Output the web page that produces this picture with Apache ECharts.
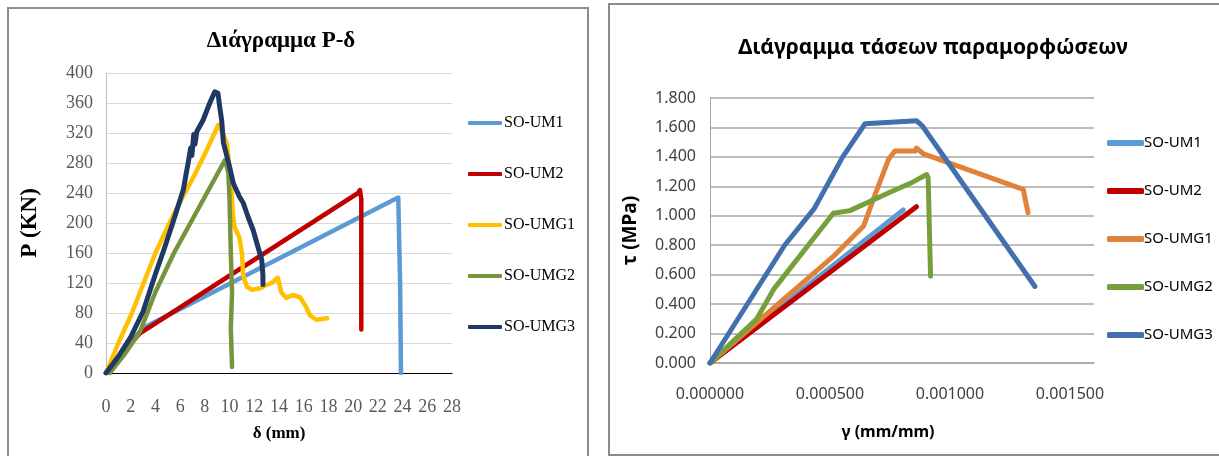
<!DOCTYPE html>
<html>
<head>
<meta charset="utf-8">
<script src="https://cdn.jsdelivr.net/npm/echarts@6/dist/echarts.min.js"></script>
<style>
  html, body { margin:0; padding:0; background:#fff; width:1219px; height:456px; overflow:hidden; }
  #boxL { position:absolute; left:7px; top:7px; width:582px; height:460px; border:2px solid #8c8c8c; box-sizing:border-box; }
  #boxR { position:absolute; left:608px; top:3px; width:620px; height:453px; border:2px solid #8c8c8c; box-sizing:border-box; }
  #chartL { position:absolute; left:0; top:0; width:600px; height:456px; }
  #chartR { position:absolute; left:600px; top:0; width:619px; height:456px; }
</style>
</head>
<body>
<div id="boxL"></div>
<div id="boxR"></div>
<div id="chartL"></div>
<div id="chartR"></div>
<script>
// ---------- Left chart: Διάγραμμα P-δ  (pairs [δ (mm), P (KN)]) ----------
const pdNames = ['SO-UM1', 'SO-UM2', 'SO-UMG1', 'SO-UMG2', 'SO-UMG3'];
const pd_UM1 = [[0,0],[1.5,32],[3,60],[23.65,234],[23.8,120],[23.87,0]];
const pd_UM2 = [[0,0],[1.5,30],[2.75,53],[20.4,240],[20.55,244],[20.66,232],[20.66,58]];
const pd_UMG1 = [[0,0],[1,40],[2.1,80],[3,118],[4,160],[5.25,204],[6,228],[7.1,262],[8,292],[9.1,331],
  [9.5,318],[9.8,305],[10.0,270],[10.15,250],[10.25,215],[10.4,195],[10.8,180],[11.0,160],[11.1,130],
  [11.4,115],[11.8,111],[12.5,113],[12.8,116],[13.4,120],[13.9,127],[14.2,107],[14.6,100],[15.1,104],
  [15.7,101],[16.2,88],[16.5,77],[17.0,71],[17.9,73]];
const pd_UMG2 = [[0.3,0],[1.5,25],[2.75,55],[4,108],[5.5,160],[7.1,208],[8.5,250],[9.63,284],
  [9.9,267],[10.0,230],[10.1,160],[10.2,107],[10.1,60],[10.2,8]];
const pd_UMG3 = [[0,0],[1,22],[2,48],[3,82],[4,132],[4.7,165],[5.4,200],[6.25,244],
  [6.7,285],[6.85,300],[6.95,290],[7.1,318],[7.2,305],[7.35,322],[7.85,337],[8.4,360],[8.8,375],
  [9.06,373],[9.2,355],[9.36,337],[9.5,307],[10.0,275],[10.3,253],[10.8,235],[11.1,227],[11.5,208],
  [11.9,191],[12.3,168],[12.6,151],[12.7,130],[12.7,118]];
const pdSeries = [pd_UM1, pd_UM2, pd_UMG1, pd_UMG2, pd_UMG3];
const pdColors = ['#5B9BD5', '#C00000', '#FFC000', '#77933C', '#1F3864'];
const pdXTicks = { min: 0, max: 28, step: 2 };
const pdYTicks = { min: 0, max: 400, step: 40 };

// ---------- Right chart: Διάγραμμα τάσεων παραμορφώσεων (pairs [γ, τ (MPa)]) ----------
const tgNames = ['SO-UM1', 'SO-UM2', 'SO-UMG1', 'SO-UMG2', 'SO-UMG3'];
const tg_UM1 = [[0,0],[0.000805,1.04]];
const tg_UM2 = [[0,0],[0.00086,1.062]];
const tg_UMG1 = [[0,0],[0.000521,0.735],[0.00064,0.93],[0.00068,1.11],[0.000743,1.38],[0.00077,1.44],
  [0.000855,1.44],[0.00086,1.46],[0.00089,1.42],[0.001305,1.18],[0.001325,1.02]];
const tg_UMG2 = [[0,0],[0.000195,0.30],[0.000265,0.50],[0.000514,1.017],[0.000583,1.035],[0.000736,1.15],
  [0.000846,1.23],[0.000903,1.28],[0.000909,1.26],[0.000919,0.59]];
const tg_UMG3 = [[0,0],[0.000311,0.80],[0.000435,1.05],[0.000553,1.40],[0.000646,1.625],[0.000861,1.645],
  [0.000885,1.61],[0.001354,0.52]];
const tgSeries = [tg_UM1, tg_UM2, tg_UMG1, tg_UMG2, tg_UMG3];
const tgColors = ['#5B9BD5', '#C00000', '#E0823A', '#77A03C', '#4270AE'];
const tgXTicks = { min: 0, max: 0.0016, step: 0.0005 };
const tgYTicks = { min: 0, max: 1.8, step: 0.2 };

const serif = 'Liberation Serif';
const sans = 'Noto Sans';

const chartL = echarts.init(document.getElementById('chartL'), null, { renderer: 'canvas' });
chartL.setOption({
  animation: false,
  title: {
    text: 'Διάγραμμα P-δ', left: 276, top: 25, textAlign: 'center',
    textStyle: { fontFamily: serif, fontWeight: 'bold', fontSize: 23, color: '#000' }
  },
  legend: {
    orient: 'vertical', left: 463, top: 108, itemGap: 31, itemWidth: 34, itemHeight: 4, icon: 'roundRect',
    data: pdNames,
    textStyle: { fontFamily: serif, fontSize: 16, color: '#000', lineHeight: 20, padding: [0,0,0,-3] }
  },
  grid: { left: 106, top: 73, width: 346, height: 300 },
  xAxis: {
    type: 'value', min: pdXTicks.min, max: pdXTicks.max, interval: pdXTicks.step,
    name: 'δ (mm)', nameLocation: 'middle', nameGap: 52,
    nameTextStyle: { fontFamily: serif, fontWeight: 'bold', fontSize: 17, color: '#000' },
    axisLine: { show: true, lineStyle: { color: '#000', width: 1.2 } },
    axisTick: { show: false },
    splitLine: { show: false },
    axisLabel: { fontFamily: serif, fontSize: 18, color: '#595959', margin: 25 }
  },
  yAxis: {
    type: 'value', min: pdYTicks.min, max: pdYTicks.max, interval: pdYTicks.step,
    name: 'P (KN)', nameLocation: 'middle', nameGap: 64,
    nameTextStyle: { fontFamily: serif, fontWeight: 'bold', fontSize: 23, color: '#000' },
    axisLine: { show: true, lineStyle: { color: '#bfbfbf', width: 1 } },
    axisTick: { show: false },
    splitLine: { show: true, lineStyle: { color: '#d9d9d9', width: 1 } },
    axisLabel: { fontFamily: serif, fontSize: 18, color: '#595959', margin: 13 }
  },
  series: pdSeries.map((d, i) => ({
    name: pdNames[i], type: 'line', data: d, showSymbol: false, symbol: 'none',
    itemStyle: { color: pdColors[i] },
    lineStyle: { color: pdColors[i], width: i === 4 ? 5 : 4.5, cap: 'round', join: 'round' }
  }))
});

const chartR = echarts.init(document.getElementById('chartR'), null, { renderer: 'canvas' });
chartR.setOption({
  animation: false,
  title: {
    text: 'Διάγραμμα τάσεων παραμορφώσεων', left: 328, top: 33, textAlign: 'center',
    textStyle: { fontFamily: sans, fontWeight: 'bold', fontSize: 21, color: '#000' }
  },
  legend: {
    orient: 'vertical', left: 502, top: 128, itemGap: 28, itemWidth: 37, itemHeight: 6, icon: 'roundRect',
    data: tgNames,
    textStyle: { fontFamily: sans, fontSize: 15, color: '#000', lineHeight: 20, padding: [0,0,0,-5] }
  },
  grid: { left: 110, top: 98, width: 384, height: 265 },
  xAxis: {
    type: 'value', min: tgXTicks.min, max: tgXTicks.max, interval: tgXTicks.step,
    name: 'γ (mm/mm)', nameLocation: 'middle', nameGap: 61,
    nameTextStyle: { fontFamily: sans, fontWeight: 'bold', fontSize: 16, color: '#000', padding: [0, 28, 0, 0] },
    axisLine: { show: true, lineStyle: { color: '#a6a6a6', width: 1.5 } },
    axisTick: { show: false },
    splitLine: { show: false },
    axisLabel: { fontFamily: sans, fontSize: 16, color: '#404040', margin: 23, showMaxLabel: false,
      formatter: v => v.toFixed(6) }
  },
  yAxis: {
    type: 'value', min: tgYTicks.min, max: tgYTicks.max, interval: tgYTicks.step,
    name: 'τ (MPa)', nameLocation: 'middle', nameGap: 70,
    nameTextStyle: { fontFamily: sans, fontWeight: 'bold', fontSize: 19, color: '#000' },
    axisLine: { show: true, lineStyle: { color: '#a6a6a6', width: 1 } },
    axisTick: { show: false },
    splitLine: { show: true, lineStyle: { color: '#a6a6a6', width: 1.5 } },
    axisLabel: { fontFamily: sans, fontSize: 16, color: '#404040', margin: 14,
      formatter: v => v.toFixed(3) }
  },
  series: tgSeries.map((d, i) => ({
    name: tgNames[i], type: 'line', data: d, showSymbol: false, symbol: 'none',
    itemStyle: { color: tgColors[i] },
    lineStyle: { color: tgColors[i], width: 5, cap: 'round', join: 'round' }
  }))
});
</script>
</body>
</html>
